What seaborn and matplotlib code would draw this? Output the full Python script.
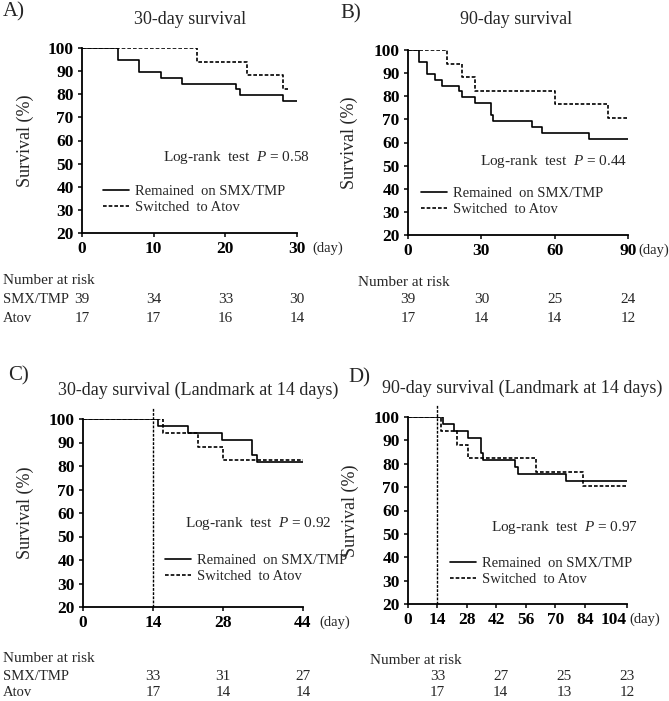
import numpy as np
import pandas as pd
import seaborn as sns
import matplotlib.pyplot as plt
import matplotlib.transforms as mtransforms

# Curvas Kaplan-Meier (tiempo en días, supervivencia en %)
a_smx_t = [0, 5, 8, 11, 14, 21.5, 22, 28, 30]
a_smx_s = [100, 94.9, 89.7, 87.2, 84.6, 82.1, 79.5, 76.9, 76.9]
a_atov_t = [0, 16, 23, 28, 28.7]
a_atov_s = [100, 94.1, 88.2, 82.4, 82.4]

b_smx_t = [0, 4.3, 7.8, 10.9, 13.9, 21, 22, 27.4, 33.8, 34.6, 50.6, 54.7, 74.1, 90]
b_smx_s = [100, 94.9, 89.7, 87.2, 84.6, 82.1, 79.5, 76.9, 71.8, 69.2, 66.7, 64.1, 61.5, 61.5]
b_atov_t = [0, 16, 22, 27.6, 60.1, 81.9, 89.5]
b_atov_s = [100, 94.1, 88.2, 82.4, 76.5, 70.6, 70.6]

c_smx_t = [0, 15, 21, 27.8, 33.8, 34.7, 44]
c_smx_s = [100, 97.0, 93.9, 90.9, 84.8, 81.8, 81.8]
c_atov_t = [0, 15.9, 22.9, 27.9, 44]
c_atov_s = [100, 94.1, 88.2, 82.4, 82.4]

d_smx_t = [0, 16.4, 21.7, 28.5, 34.6, 35.7, 51.0, 52.2, 75.2, 104]
d_smx_s = [100, 97.0, 93.9, 90.9, 84.8, 81.8, 78.8, 75.8, 72.7, 72.7]
d_atov_t = [0, 15.9, 23.3, 28.5, 60.7, 83.3, 104]
d_atov_s = [100, 94.1, 88.2, 82.4, 76.5, 70.6, 70.6]

# Ejes X
a_ticks = [0, 10, 20, 30]
b_ticks = [0, 30, 60, 90]
c_ticks = [0, 14, 28, 44]
d_ticks = [0, 14, 28, 42, 56, 70, 84, 104]
y_ticks = [20, 30, 40, 50, 60, 70, 80, 90, 100]
landmark = 14

# Número en riesgo
a_risk_t = [0, 10, 20, 30]
a_risk_smx = [39, 34, 33, 30]
a_risk_atov = [17, 17, 16, 14]
b_risk_t = [0, 30, 60, 90]
b_risk_smx = [39, 30, 25, 24]
b_risk_atov = [17, 14, 14, 12]
c_risk_t = [14, 28, 44]
c_risk_smx = [33, 31, 27]
c_risk_atov = [17, 14, 14]
d_risk_t = [14, 44, 74, 104]
d_risk_smx = [33, 27, 25, 23]
d_risk_atov = [17, 14, 13, 12]

p_values = ['0.58', '0.44', '0.92', '0.97']
titulos = ['30-day survival', '90-day survival',
           '30-day survival (Landmark at 14 days)', '90-day survival (Landmark at 14 days)']
letras = ['A)', 'B)', 'C)', 'D)']

sns.set_style('ticks')
plt.rcParams['font.family'] = ['Liberation Serif', 'DejaVu Serif']
plt.rcParams['mathtext.fontset'] = 'custom'
plt.rcParams['mathtext.it'] = 'Liberation Serif:italic'
plt.rcParams['mathtext.rm'] = 'Liberation Serif'

W, H = 669, 701
fig = plt.figure(figsize=(W / 100, H / 100), dpi=100)


def fx(px):
    return px / W


def fy(py):
    return 1 - py / H


# posiciones de ejes en píxeles: (izq, der, arriba, abajo)
cajas = [(82, 297, 48, 233), (408, 628, 50, 235), (83, 303, 419, 607), (408, 627, 417, 604)]

paneles = [
    (a_smx_t, a_smx_s, a_atov_t, a_atov_s, a_ticks, False),
    (b_smx_t, b_smx_s, b_atov_t, b_atov_s, b_ticks, False),
    (c_smx_t, c_smx_s, c_atov_t, c_atov_s, c_ticks, True),
    (d_smx_t, d_smx_s, d_atov_t, d_atov_s, d_ticks, True),
]

# posiciones de textos en píxeles
pos_logrank = [(163, 157), (480, 162), (185, 523), (491, 528)]
pos_leyenda = [(103, 193), (421, 195), (165, 562), (450, 565)]
pos_titulo = [(190, 20), (516, 20), (198, 390), (522, 388)]
pos_letra = [(3, 12), (340, 14), (8, 376), (348, 378)]
desp_day = [11, 7.5, 12, 2]  # puntos a la derecha del extremo del eje

axes = []
for i, (caja, panel) in enumerate(zip(cajas, paneles)):
    izq, der, arr, aba = caja
    smx_t, smx_s, atov_t, atov_s, ticks, es_landmark = panel
    ax = fig.add_axes([fx(izq), fy(aba), fx(der - izq), (aba - arr) / H])
    axes.append(ax)

    sns.lineplot(x=smx_t, y=smx_s, ax=ax, color='black', lw=1.2,
                 drawstyle='steps-post', estimator=None, label='Remained  on SMX/TMP')
    sns.lineplot(x=atov_t, y=atov_s, ax=ax, color='black', lw=1.2,
                 drawstyle='steps-post', estimator=None, linestyle=(0, (2.2, 1.2)),
                 label='Switched  to Atov')

    if es_landmark:
        ax.axvline(landmark, ymin=0, ymax=1.065, color='black', lw=1.0,
                   linestyle=(0, (2, 1)), clip_on=False)

    ax.set_xlim(ticks[0], ticks[-1])
    ax.set_ylim(20, 100)
    ax.set_xticks(ticks)
    ax.set_yticks(y_ticks)
    ax.tick_params(axis='both', labelsize=12.5, length=3, width=1.1, direction='out',
                   pad=3, colors='black')
    for lab in ax.get_xticklabels() + ax.get_yticklabels():
        lab.set_fontweight('bold')
    for s in ['left', 'bottom']:
        ax.spines[s].set_linewidth(1.3)
        ax.spines[s].set_color('black')
    sns.despine(ax=ax)
    ax.set_xlabel('')
    ax.set_ylabel('Survival (%)', fontsize=13)
    ax.yaxis.set_label_coords(-0.225, 0.5)

    # "(day)" a la derecha del último tick
    if i == 3:
        ax.get_xticklabels()[-1].set_horizontalalignment('right')
    ax.annotate('(day)', xy=(1, 0), xycoords='axes fraction', xytext=(desp_day[i], -6),
                textcoords='offset points', ha='left', va='top', fontsize=10.5)

    lx, ly = pos_leyenda[i]
    ax.legend(loc='upper left', bbox_to_anchor=(fx(lx), fy(ly - 8)),
              bbox_transform=fig.transFigure, frameon=False, fontsize=10.5,
              handlelength=1.75, handletextpad=0.45, labelspacing=0.17,
              borderpad=0, borderaxespad=0)

    px, py = pos_logrank[i]
    fig.text(fx(px), fy(py), r'Log-rank  test  $P$ = ' + p_values[i], fontsize=11,
             ha='left', va='center')

    tx, ty = pos_titulo[i]
    fig.text(fx(tx), fy(ty), titulos[i], fontsize=13, ha='center', va='center')
    kx, ky = pos_letra[i]
    fig.text(fx(kx), fy(ky), letras[i], fontsize=15, ha='left', va='center')

# Tablas de número en riesgo
tablas = [
    (axes[0], a_risk_t, a_risk_smx, a_risk_atov, (3, 281), (300, 318), True),
    (axes[1], b_risk_t, b_risk_smx, b_risk_atov, (358, 282), (300, 318), False),
    (axes[2], c_risk_t, c_risk_smx, c_risk_atov, (3, 659), (677, 693), True),
    (axes[3], d_risk_t, d_risk_smx, d_risk_atov, (370, 661), (677, 693), False),
]
for ax, rt, rs, ra, cab, filas, etiquetas in tablas:
    fig.text(fx(cab[0]), fy(cab[1]), 'Number at risk', fontsize=11, ha='left', va='center')
    trans = mtransforms.blended_transform_factory(ax.transData, fig.transFigure)
    for t, n1, n2 in zip(rt, rs, ra):
        ax.text(t, fy(filas[0]), str(n1), transform=trans, fontsize=11, ha='center', va='center')
        ax.text(t, fy(filas[1]), str(n2), transform=trans, fontsize=11, ha='center', va='center')
    if etiquetas:
        fig.text(fx(3), fy(filas[0]), 'SMX/TMP', fontsize=10.5, ha='left', va='center')
        fig.text(fx(3), fy(filas[1]), 'Atov', fontsize=10.5, ha='left', va='center')

fig.savefig('out.png', dpi=100)
